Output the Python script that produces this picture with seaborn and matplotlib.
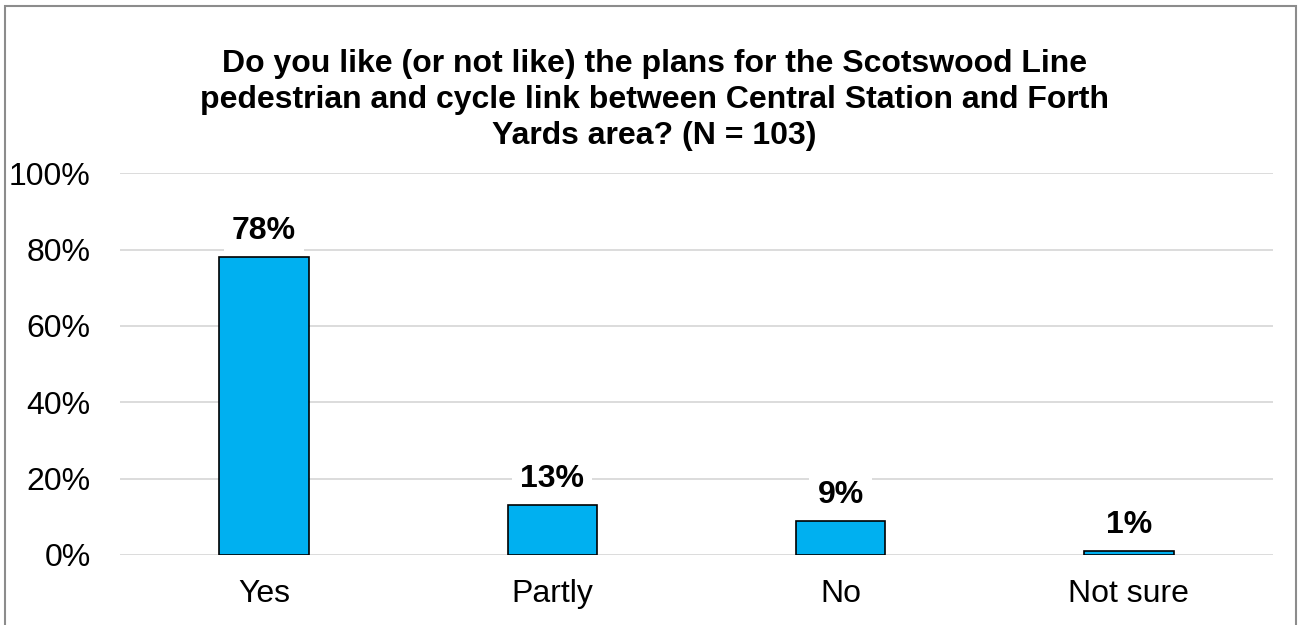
import matplotlib
matplotlib.use("Agg")
import matplotlib.pyplot as plt
import seaborn as sns
import pandas as pd
from matplotlib.patches import Rectangle

categories = ["Yes", "Partly", "No", "Not sure"]
percentages = [78, 13, 9, 1]
y_ticks = [0, 20, 40, 60, 80, 100]
title = ("Do you like (or not like) the plans for the Scotswood Line\n"
         "pedestrian and cycle link between Central Station and Forth\n"
         "Yards area? (N = 103)")

sns.set_theme(style="white")
plt.rcParams["font.family"] = ["Liberation Sans", "DejaVu Sans"]
plt.rcParams["text.color"] = "black"
plt.rcParams["xtick.color"] = "black"
plt.rcParams["ytick.color"] = "black"

df = pd.DataFrame({"category": categories, "pct": percentages})

fig = plt.figure(figsize=(13.03, 6.25), dpi=100)
ax = fig.add_axes([0.092, 0.112, 0.885, 0.611])

sns.barplot(data=df, x="category", y="pct", ax=ax, color="#00B0F0",
            saturation=1, width=0.31, edgecolor="black", linewidth=1.2,
            zorder=3)

ax.set_xlim(-0.5, 3.5)
ax.set_ylim(0, 100)
ax.set_yticks(y_ticks)
ax.set_yticklabels([f"{t}%" for t in y_ticks], fontsize=23)
ax.tick_params(axis="x", labelsize=23, pad=17, length=0)
ax.tick_params(axis="y", pad=21, length=0)
ax.set_xlabel("")
ax.set_ylabel("")
ax.yaxis.grid(True, color="#D9D9D9", linewidth=1.3, zorder=0)
for s in ax.spines.values():
    s.set_visible(False)

for i, v in enumerate(percentages):
    ax.annotate(f"{v}%", (i, v), xytext=(0, 8), textcoords="offset points",
                ha="center", va="bottom", fontsize=23, fontweight="bold",
                color="black",
                bbox=dict(boxstyle="square,pad=0.25", fc="white", ec="none"),
                zorder=4)

fig.text(0.502, 0.840, title, ha="center", va="center", fontsize=23,
         fontweight="bold", linespacing=1.27, color="black")

fig.patches.append(Rectangle((0.004, -0.01), 0.991, 1.0, transform=fig.transFigure,
                             fill=False, edgecolor="#8C8C8C", linewidth=1.5))

fig.savefig("out.png", dpi=100)
